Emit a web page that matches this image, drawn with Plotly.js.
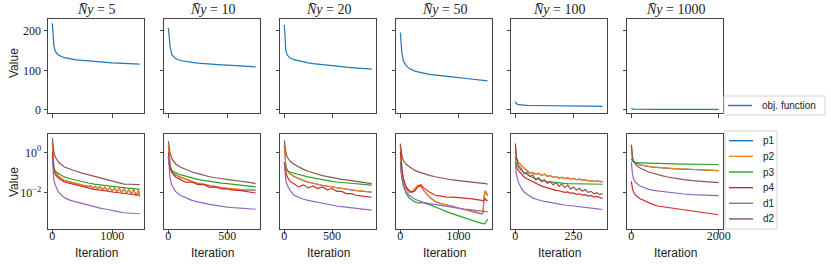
<!DOCTYPE html>
<html><head><meta charset="utf-8">
<script src="https://cdn.plot.ly/plotly-3.0.1.min.js"></script>
<style>html,body{margin:0;padding:0;background:#fff}#chart{width:831px;height:266px}</style>
</head><body><div id="chart"></div>
<script>
// ---------- DATA (bottom-row series stored as log10 of the value) ----------
const panelTitles = ['5', '10', '20', '50', '100', '1000'];
const xTickVals = [[0, 1000], [0, 500], [0, 500], [0, 1000], [0, 250], [0, 2000]];
const seriesNames = ['p1', 'p2', 'p3', 'p4', 'd1', 'd2'];
const objName = 'obj. function';

// Panel 1 (N̄y = 5)
const iter1 = [0,10,25,50,100,200,300,400,500,600,700,800,900,1000,1100,1200,1300,1400,1460];
const iter1_osc = [0,10,25,50,100,200,300,400,500,600,640,680,720,760,800,840,880,920,960,1000,1040,1080,1120,1160,1200,1240,1280,1320,1360,1400,1440,1460];
const obj1 = [219,180,162,148,139,132,129,126.5,125,123.5,122,121,120,119,118.5,117.5,117,116.5,116];
const p1_1 = [0.45,-0.25,-0.78,-0.97,-1.17,-1.39,-1.47,-1.55,-1.62,-1.67,-1.66,-1.74,-1.68,-1.78,-1.70,-1.82,-1.72,-1.86,-1.74,-1.90,-1.76,-1.93,-1.78,-1.97,-1.80,-2.00,-1.84,-2.04,-1.84,-2.12,-1.88,-2.15];
const p2_1 = [0.5,-0.2,-0.75,-0.95,-1.16,-1.38,-1.46,-1.54,-1.62,-1.67,-1.64,-1.76,-1.66,-1.80,-1.68,-1.84,-1.70,-1.88,-1.72,-1.92,-1.74,-1.95,-1.76,-1.99,-1.78,-2.02,-1.82,-2.06,-1.80,-2.15,-1.85,-2.18];
const p3_1 = [-0.2,-0.6,-0.8,-0.95,-1.05,-1.21,-1.30,-1.38,-1.46,-1.51,-1.56,-1.61,-1.64,-1.67,-1.70,-1.74,-1.75,-1.79,-1.82];
const p4_1 = [0.0,-0.5,-0.95,-1.1,-1.26,-1.46,-1.54,-1.62,-1.70,-1.75,-1.82,-1.85,-1.90,-1.95,-1.98,-2.02,-2.05,-2.08,-2.11];
const d1_1 = [-0.3,-1.13,-1.38,-1.62,-1.95,-2.23,-2.36,-2.44,-2.52,-2.61,-2.67,-2.74,-2.80,-2.87,-2.92,-2.97,-3.0,-3.02,-3.02];
const d2_1 = [0.70,0.30,0.0,-0.23,-0.48,-0.72,-0.84,-0.93,-1.02,-1.10,-1.18,-1.26,-1.33,-1.41,-1.51,-1.56,-1.57,-1.59,-1.59];

// Panel 2 (N̄y = 10)
const iter2 = [0,5,15,30,60,100,150,200,250,300,350,400,450,500,550,600,650,700,740];
const obj2 = [208,190,160,139,130,125,122,120,118.5,117,116,115,114,113,112,111,110.5,110,109];
const p1_2 = [0.32,-0.22,-0.66,-0.94,-1.11,-1.22,-1.34,-1.44,-1.52,-1.58,-1.65,-1.70,-1.75,-1.78,-1.81,-1.83,-1.86,-1.84,-1.88];
const p2_2 = [0.34,-0.2,-0.64,-0.93,-1.10,-1.21,-1.33,-1.43,-1.51,-1.57,-1.64,-1.69,-1.74,-1.77,-1.80,-1.82,-1.85,-1.82,-1.87];
const p3_2 = [-0.48,-0.6,-0.72,-0.89,-1.0,-1.1,-1.18,-1.26,-1.33,-1.38,-1.43,-1.48,-1.51,-1.54,-1.57,-1.61,-1.64,-1.67,-1.70];
const p4_2 = [0.0,-0.4,-0.80,-1.0,-1.21,-1.33,-1.48,-1.46,-1.59,-1.58,-1.72,-1.70,-1.80,-1.80,-1.86,-1.87,-1.92,-1.95,-2.0];
const d1_2 = [-0.23,-0.8,-1.30,-1.62,-1.92,-2.11,-2.25,-2.36,-2.44,-2.51,-2.56,-2.61,-2.66,-2.69,-2.72,-2.75,-2.77,-2.79,-2.80];
const d2_2 = [0.55,0.3,-0.07,-0.31,-0.56,-0.72,-0.85,-0.97,-1.05,-1.13,-1.2,-1.25,-1.3,-1.34,-1.38,-1.41,-1.44,-1.49,-1.54];

// Panel 3 (N̄y = 20)
const iter3 = [0,5,15,30,60,100,150,200,250,300,350,400,450,500,550,600,650,700,750,800,850,915];
const obj3 = [215,185,150,139,131,127,124,121,119,117,115.5,114,112.5,111,110,109,108,107,106,105,104,103];
const p1_3 = [0.32,-0.02,-0.66,-0.90,-1.06,-1.19,-1.31,-1.39,-1.47,-1.53,-1.58,-1.63,-1.67,-1.71,-1.75,-1.80,-1.81,-1.85,-1.88,-1.91,-1.93,-1.96];
const p2_3 = [0.34,0.0,-0.64,-0.89,-1.05,-1.18,-1.30,-1.38,-1.46,-1.52,-1.57,-1.62,-1.66,-1.70,-1.74,-1.79,-1.80,-1.84,-1.87,-1.90,-1.92,-1.95];
const p3_3 = [-0.64,-0.7,-0.8,-0.89,-0.97,-1.03,-1.10,-1.16,-1.21,-1.26,-1.31,-1.34,-1.39,-1.43,-1.46,-1.48,-1.51,-1.52,-1.54,-1.56,-1.57,-1.61];
const p4_3 = [-0.48,-0.7,-0.97,-1.21,-1.43,-1.54,-1.70,-1.60,-1.75,-1.65,-1.78,-1.70,-1.84,-1.78,-1.92,-1.92,-2.03,-2.03,-2.11,-2.14,-2.16,-2.21];
const d1_3 = [-0.56,-1.05,-1.38,-1.62,-1.87,-2.11,-2.23,-2.31,-2.36,-2.41,-2.46,-2.51,-2.56,-2.61,-2.64,-2.67,-2.70,-2.74,-2.75,-2.79,-2.80,-2.84];
const d2_3 = [0.59,0.3,0.02,-0.23,-0.44,-0.59,-0.72,-0.84,-0.93,-1.02,-1.08,-1.15,-1.20,-1.25,-1.30,-1.33,-1.36,-1.39,-1.43,-1.46,-1.49,-1.54];

// Panel 4 (N̄y = 50)
const iter4 = [0,10,25,50,100,150,200,250,300,350,400,500,600,700,800,900,1000,1100,1200,1300,1400,1420,1440,1460,1480,1500];
const obj4 = [196,170,145,125,112,105,101,98,96,94,93,90,88,86,84.5,83,81.5,80,78.5,77,75,74.8,74.5,74.2,74,73.5];
const p1_4 = [0.32,-0.42,-0.82,-1.31,-1.80,-1.96,-1.96,-1.80,-1.64,-1.69,-1.88,-2.21,-2.42,-2.53,-2.59,-2.66,-2.75,-2.82,-2.90,-2.95,-3.04,-2.98,-2.16,-1.92,-2.04,-2.14];
const p2_4 = [0.34,-0.4,-0.80,-1.30,-1.79,-1.95,-1.95,-1.79,-1.62,-1.67,-1.87,-2.20,-2.41,-2.52,-2.57,-2.64,-2.74,-2.80,-2.89,-2.93,-3.02,-2.95,-2.11,-1.87,-2.0,-2.11];
const p3_4 = [-0.48,-0.8,-1.13,-1.62,-2.03,-2.25,-2.36,-2.44,-2.49,-2.48,-2.49,-2.57,-2.67,-2.80,-2.93,-3.03,-3.13,-3.23,-3.33,-3.41,-3.49,-3.50,-3.52,-3.48,-3.38,-3.28];
const p4_4 = [0.02,-0.4,-0.80,-1.30,-1.70,-1.87,-1.95,-1.90,-1.70,-1.59,-1.75,-1.95,-2.11,-2.15,-2.21,-2.20,-2.21,-2.25,-2.28,-2.31,-2.36,-2.39,-2.36,-2.28,-2.38,-2.35];
const d1_4 = [-0.64,-1.0,-1.30,-1.62,-1.95,-2.11,-2.23,-2.31,-2.36,-2.41,-2.46,-2.52,-2.57,-2.62,-2.67,-2.72,-2.75,-2.79,-2.82,-2.85,-2.89,-2.90,-2.90,-2.91,-2.92,-2.93];
const d2_4 = [0.43,0.1,-0.15,-0.39,-0.59,-0.70,-0.80,-0.89,-0.95,-1.0,-1.05,-1.13,-1.20,-1.26,-1.31,-1.36,-1.39,-1.43,-1.46,-1.49,-1.52,-1.53,-1.53,-1.54,-1.55,-1.56];

// Panel 5 (N̄y = 100)
const iter5 = [0,4,12.5,25,37.5,50,62.5,75,87.5,100,112.5,125,137.5,150,162.5,175,187.5,200,212.5,225,237.5,250,262.5,275,287.5,300,312.5,325,337.5,350,362.5,375];
const obj5 = [21,16,13,12,11.5,11.2,11,10.8,10.7,10.5,10.4,10.3,10.2,10.1,10,9.9,9.8,9.8,9.7,9.6,9.6,9.5,9.4,9.4,9.3,9.3,9.2,9.2,9.1,9.1,9.0,9.0];
const p1_5 = [0.32,-0.25,-0.50,-0.66,-0.78,-0.90,-1.02,-1.00,-1.08,-1.04,-1.13,-1.08,-1.18,-1.15,-1.23,-1.19,-1.27,-1.23,-1.29,-1.26,-1.31,-1.29,-1.34,-1.32,-1.37,-1.35,-1.40,-1.39,-1.43,-1.41,-1.44,-1.44];
const p2_5 = [0.34,-0.23,-0.48,-0.64,-0.77,-0.89,-1.03,-0.98,-1.08,-1.02,-1.14,-1.07,-1.19,-1.14,-1.24,-1.18,-1.28,-1.22,-1.30,-1.25,-1.32,-1.28,-1.35,-1.31,-1.38,-1.34,-1.41,-1.38,-1.44,-1.40,-1.45,-1.43];
const p3_5 = [-0.23,-0.56,-0.72,-0.89,-1.0,-1.10,-1.18,-1.25,-1.30,-1.34,-1.38,-1.41,-1.44,-1.46,-1.48,-1.49,-1.51,-1.52,-1.53,-1.54,-1.54,-1.55,-1.55,-1.55,-1.56,-1.56,-1.56,-1.57,-1.57,-1.57,-1.57,-1.57];
const p4_5 = [-0.56,-0.72,-0.89,-1.05,-1.21,-1.30,-1.38,-1.46,-1.54,-1.59,-1.66,-1.70,-1.75,-1.79,-1.82,-1.87,-1.89,-1.92,-1.97,-1.95,-2.02,-2.0,-2.07,-2.04,-2.10,-2.08,-2.15,-2.12,-2.20,-2.17,-2.24,-2.27];
const d1_5 = [-0.48,-1.05,-1.46,-1.75,-1.95,-2.08,-2.16,-2.25,-2.30,-2.34,-2.38,-2.41,-2.44,-2.48,-2.49,-2.52,-2.54,-2.57,-2.59,-2.61,-2.62,-2.64,-2.66,-2.67,-2.69,-2.70,-2.72,-2.74,-2.75,-2.77,-2.79,-2.80];
const d2_5 = [0.43,-0.23,-0.64,-0.80,-1.05,-0.99,-1.19,-1.12,-1.35,-1.24,-1.44,-1.35,-1.53,-1.44,-1.60,-1.48,-1.68,-1.55,-1.73,-1.61,-1.80,-1.71,-1.86,-1.77,-1.91,-1.83,-1.97,-1.92,-2.04,-1.98,-2.07,-2.03];

// Panel 6 (N̄y = 1000)
const iter6 = [0,10,25,50,100,200,300,400,500,600,700,800,1000,1200,1400,1600,1800,2000];
const obj6 = [4,2.5,2,1.8,1.6,1.5,1.4,1.35,1.3,1.25,1.2,1.2,1.15,1.1,1.05,1.0,1.0,1.0];
const p1_6 = [0.32,-0.17,-0.32,-0.45,-0.53,-0.62,-0.67,-0.70,-0.73,-0.75,-0.76,-0.78,-0.81,-0.83,-0.85,-0.86,-0.89,-0.90];
const p2_6 = [0.34,-0.15,-0.31,-0.44,-0.52,-0.61,-0.66,-0.69,-0.72,-0.74,-0.75,-0.77,-0.80,-0.82,-0.84,-0.85,-0.89,-0.90];
const p3_6 = [-0.31,-0.40,-0.44,-0.46,-0.51,-0.52,-0.53,-0.54,-0.55,-0.55,-0.56,-0.56,-0.57,-0.58,-0.58,-0.59,-0.60,-0.60];
const p4_6 = [-1.43,-1.62,-1.79,-1.95,-2.11,-2.28,-2.39,-2.48,-2.57,-2.64,-2.67,-2.69,-2.74,-2.80,-2.87,-2.93,-3.0,-3.07];
const d1_6 = [-0.48,-0.80,-1.05,-1.30,-1.49,-1.66,-1.75,-1.82,-1.87,-1.90,-1.93,-1.95,-2.0,-2.05,-2.08,-2.10,-2.11,-2.13];
const d2_6 = [0.38,0.02,-0.23,-0.44,-0.61,-0.77,-0.89,-0.97,-1.03,-1.10,-1.15,-1.20,-1.28,-1.34,-1.39,-1.43,-1.46,-1.49];

// ---------- assembly ----------
const panels = [
  {it: iter1, pit: iter1_osc, obj: obj1, s: [p1_1, p2_1, p3_1, p4_1, d1_1, d2_1]},
  {it: iter2, pit: iter2, obj: obj2, s: [p1_2, p2_2, p3_2, p4_2, d1_2, d2_2]},
  {it: iter3, pit: iter3, obj: obj3, s: [p1_3, p2_3, p3_3, p4_3, d1_3, d2_3]},
  {it: iter4, pit: iter4, obj: obj4, s: [p1_4, p2_4, p3_4, p4_4, d1_4, d2_4]},
  {it: iter5, pit: iter5, obj: obj5, s: [p1_5, p2_5, p3_5, p4_5, d1_5, d2_5]},
  {it: iter6, pit: iter6, obj: obj6, s: [p1_6, p2_6, p3_6, p4_6, d1_6, d2_6]}
];
const colors = ['#1f77b4', '#ff7f0e', '#2ca02c', '#d62728', '#9467bd', '#8c564b'];

const W = 831, H = 266;
const colLeft = [48, 164, 280, 396, 511, 627];
const panelW = 96;
const rowsPx = [[19, 113], [134, 229]];
const axisColor = '#444';
const serif = 'Liberation Serif, DejaVu Serif, serif';
const sans = 'Liberation Sans, DejaVu Sans, sans-serif';
const tickFont = {family: serif, size: 12, color: '#222'};
const px = v => v / W, py = v => 1 - v / H;

const toPow = a => a.map(v => Math.pow(10, v));
const traces = [];
const layout = {
  width: W, height: H,
  margin: {l: 0, r: 0, t: 0, b: 0},
  paper_bgcolor: '#fff', plot_bgcolor: '#fff',
  showlegend: false,
  annotations: [], shapes: []
};

function axId(i) { return i === 1 ? '' : String(i); }

for (let r = 0; r < 2; r++) {
  for (let c = 0; c < 6; c++) {
    const idx = r * 6 + c + 1;
    const p = panels[c];
    const N = p.it[p.it.length - 1];
    const xk = 'xaxis' + axId(idx), yk = 'yaxis' + axId(idx);
    const xr = 'x' + axId(idx), yr = 'y' + axId(idx);
    layout[xk] = {
      domain: [px(colLeft[c]), px(colLeft[c] + panelW)], anchor: yr,
      range: [-0.05 * N, 1.05 * N], tickvals: xTickVals[c], showticklabels: r === 1,
      ticks: 'outside', ticklen: 3.5, tickwidth: 1, tickcolor: axisColor,
      ticklabelstandoff: -8,
      showline: true, mirror: true, linecolor: axisColor, linewidth: 1,
      showgrid: false, zeroline: false, tickfont: tickFont, fixedrange: true
    };
    const yd = [py(rowsPx[r][1]), py(rowsPx[r][0])];
    if (r === 0) {
      layout[yk] = {
        domain: yd, anchor: xr, range: [-8, 230], tickvals: [0, 100, 200],
        showticklabels: c === 0, ticks: 'outside', ticklen: 3.5, tickcolor: axisColor,
        showline: true, mirror: true, linecolor: axisColor, linewidth: 1,
        showgrid: false, zeroline: false, tickfont: tickFont, fixedrange: true
      };
      traces.push({
        x: p.it, y: p.obj, xaxis: xr, yaxis: yr, type: 'scatter', mode: 'lines',
        name: objName, line: {color: colors[0], width: 1.2}, hoverinfo: 'skip'
      });
    } else {
      layout[yk] = {
        domain: yd, anchor: xr, type: 'log', range: [-3.77, 0.9],
        tickvals: [1, 0.01], ticktext: ['10<sup>0</sup>', '10<sup>−2</sup>'],
        showticklabels: c === 0, ticks: 'outside', ticklen: 3.5, tickcolor: axisColor,
        showline: true, mirror: true, linecolor: axisColor, linewidth: 1,
        showgrid: false, zeroline: false, tickfont: tickFont, fixedrange: true
      };
      for (let s = 0; s < 6; s++) {
        traces.push({
          x: s < 2 ? p.pit : p.it, y: toPow(p.s[s]), xaxis: xr, yaxis: yr,
          type: 'scatter', mode: 'lines', name: seriesNames[s],
          line: {color: colors[s], width: 1.2}, hoverinfo: 'skip'
        });
      }
    }
  }
}

// titles and axis labels
for (let c = 0; c < 6; c++) {
  layout.annotations.push({
    xref: 'paper', yref: 'paper', x: px(colLeft[c] + panelW / 2), y: py(9),
    xanchor: 'center', yanchor: 'middle', showarrow: false,
    text: '<i>N̄y</i> = ' + panelTitles[c],
    font: {family: serif, size: 14, color: '#222'}
  });
  layout.annotations.push({
    xref: 'paper', yref: 'paper', x: px(colLeft[c] + panelW / 2), y: py(253),
    xanchor: 'center', yanchor: 'middle', showarrow: false, text: 'Iteration',
    font: {family: sans, size: 12, color: '#222'}
  });
}
[63, 182].forEach(yc => {
  layout.annotations.push({
    xref: 'paper', yref: 'paper', x: px(14), y: py(yc),
    xanchor: 'center', yanchor: 'middle', showarrow: false, text: 'Value', textangle: -90,
    font: {family: sans, size: 12, color: '#222'}
  });
});

// legends (drawn as boxes with sample lines and labels)
function legendBox(x0, y0, x1, y1, entries, firstY, step) {
  layout.shapes.push({type: 'rect', xref: 'paper', yref: 'paper',
    x0: px(x0), x1: px(x1), y0: py(y1), y1: py(y0),
    line: {color: '#d4d4d4', width: 1}, fillcolor: 'rgba(255,255,255,0.85)', layer: 'above'});
  entries.forEach((e, i) => {
    const yc = firstY + i * step;
    layout.shapes.push({type: 'line', xref: 'paper', yref: 'paper',
      x0: px(x0 + 4), x1: px(x0 + 28), y0: py(yc), y1: py(yc),
      line: {color: e.color, width: 1.4}, layer: 'above'});
    layout.annotations.push({xref: 'paper', yref: 'paper', x: px(x0 + 36), y: py(yc),
      xanchor: 'left', yanchor: 'middle', showarrow: false, text: e.name,
      font: {family: sans, size: 10, color: '#222'}});
  });
}
legendBox(724, 96, 825, 115, [{name: objName, color: colors[0]}], 105.5, 0);
legendBox(725, 131, 777, 229, seriesNames.map((n, i) => ({name: n, color: colors[i]})), 140.7, 15.65);

Plotly.newPlot('chart', traces, layout, {staticPlot: true, displayModeBar: false});
</script>
</body></html>
